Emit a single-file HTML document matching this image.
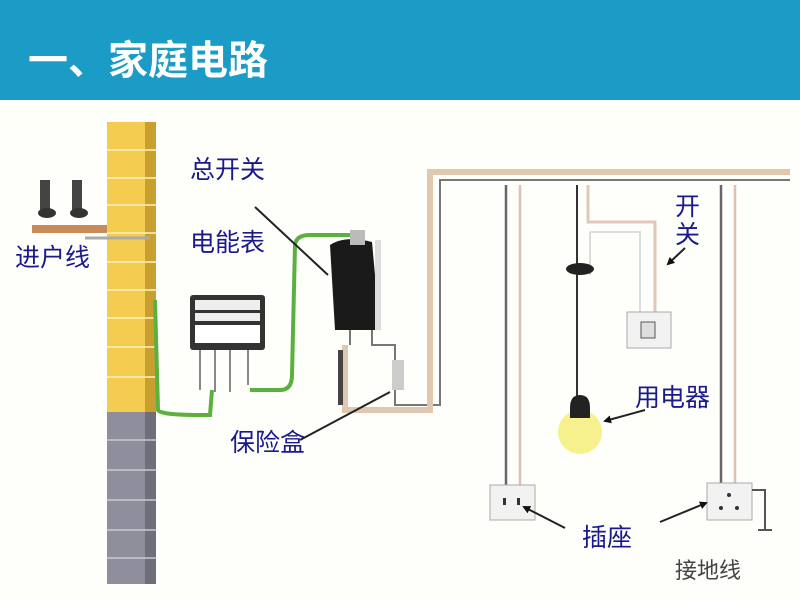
<!DOCTYPE html>
<html><head><meta charset="utf-8"><style>
body{margin:0;width:800px;height:600px;overflow:hidden;background:#fff;font-family:"Liberation Sans","Noto Sans CJK SC",sans-serif}
</style></head><body>
<svg width="800" height="600" xmlns="http://www.w3.org/2000/svg" font-family="Liberation Sans, Noto Sans CJK SC, sans-serif">
<defs><marker id="a" markerWidth="8" markerHeight="8" refX="6" refY="4" orient="auto" markerUnits="userSpaceOnUse"><path d="M0 0 L8 4 L0 8 Z" fill="#111"/></marker></defs>
<rect x="0" y="0" width="800" height="100" fill="#1b9cc6"/>
<text x="28" y="74" font-size="40" font-weight="bold" fill="#fff">一、家庭电路</text>
<rect x="0" y="100" width="800" height="500" fill="#fefefb"/>
<!-- wall -->
<rect x="107" y="122" width="42" height="290" fill="#f4cc50"/>
<rect x="145" y="122" width="11" height="290" fill="#c9a030"/>
<rect x="107" y="412" width="42" height="172" fill="#8e8e9c"/>
<rect x="145" y="412" width="11" height="172" fill="#6f6f7a"/>
<g stroke="#fff3c0" stroke-width="1.5">
<line x1="107" y1="150" x2="156" y2="150"/><line x1="107" y1="178" x2="156" y2="178"/><line x1="107" y1="205" x2="156" y2="205"/><line x1="107" y1="233" x2="156" y2="233"/><line x1="107" y1="262" x2="156" y2="262"/><line x1="107" y1="290" x2="156" y2="290"/><line x1="107" y1="318" x2="156" y2="318"/><line x1="107" y1="347" x2="156" y2="347"/><line x1="107" y1="377" x2="156" y2="377"/></g>
<g stroke="#c8c8d0" stroke-width="1.5">
<line x1="107" y1="440" x2="156" y2="440"/><line x1="107" y1="470" x2="156" y2="470"/><line x1="107" y1="500" x2="156" y2="500"/><line x1="107" y1="530" x2="156" y2="530"/><line x1="107" y1="558" x2="156" y2="558"/></g>
<!-- bracket and insulators -->
<rect x="32" y="225" width="75" height="8" fill="#c98a5a"/>
<rect x="40" y="180" width="10" height="35" fill="#444"/><ellipse cx="47" cy="213" rx="9" ry="5" fill="#333"/>
<rect x="72" y="180" width="10" height="35" fill="#444"/><ellipse cx="79" cy="213" rx="9" ry="5" fill="#333"/>
<line x1="85" y1="238" x2="150" y2="238" stroke="#aaa" stroke-width="3"/>
<!-- green wires -->
<path d="M155 300 L158 410 Q160 415 200 415 L210 415 L212 390" fill="none" stroke="#5cb040" stroke-width="4"/>
<path d="M250 390 L280 390 Q292 390 292 375 L295 245 Q296 235 310 235 L350 235" fill="none" stroke="#5cb040" stroke-width="4"/>
<!-- meter box -->
<rect x="190" y="295" width="75" height="55" fill="#333" rx="3"/>
<rect x="195" y="300" width="65" height="10" fill="#eee"/><rect x="195" y="313" width="65" height="8" fill="#eee"/><rect x="195" y="325" width="65" height="18" fill="#fff"/>
<g stroke="#888" stroke-width="2" fill="none"><path d="M200 350 V390"/><path d="M215 350 V392"/><path d="M230 350 V392"/><path d="M248 350 V385"/></g>
<!-- main switch -->
<path d="M330 245 Q345 235 372 242 L380 330 L335 330 Z" fill="#1a1a1a"/>
<rect x="350" y="230" width="15" height="15" fill="#bbb"/>
<rect x="375" y="240" width="6" height="90" fill="#ddd"/>
<path d="M350 330 V345 M372 330 V345 L395 345 V405 L440 405 L440 180 L790 180" fill="none" stroke="#777" stroke-width="2"/>
<path d="M345 345 V410 L430 410 L430 172 L790 172" fill="none" stroke="#e0c8b0" stroke-width="6"/>
<rect x="338" y="350" width="5" height="55" fill="#444"/>
<rect x="392" y="360" width="12" height="30" fill="#ccc"/>
<!-- verticals -->
<g fill="none" stroke-width="2.5">
<path d="M506 185 V490" stroke="#666"/><path d="M520 185 V490" stroke="#e0c0b0"/>
<path d="M721 185 V490" stroke="#666"/><path d="M735 185 V490" stroke="#e0c0b0"/>
<path d="M577 185 V400" stroke="#333" stroke-width="2"/>
<path d="M588 185 V222 L640 222 L655 222 V320" stroke="#e0c8b8" stroke-width="3"/>
<path d="M590 232 V275 M590 232 L640 232 V320" stroke="#ddd" stroke-width="2"/>
</g>
<ellipse cx="580" cy="269" rx="14" ry="6" fill="#222"/>
<circle cx="580" cy="432" r="22" fill="#f4ee70" opacity="0.8"/>
<path d="M570 408 Q570 395 580 395 Q590 395 590 408 L590 418 L570 418 Z" fill="#222"/>
<rect x="627" y="312" width="44" height="36" fill="#f2f2f2" stroke="#aaa"/>
<rect x="641" y="322" width="14" height="16" fill="#ddd" stroke="#555"/>
<rect x="490" y="485" width="45" height="35" fill="#f2f2f2" stroke="#aaa"/>
<rect x="503" y="498" width="3" height="7" fill="#333"/><rect x="517" y="498" width="3" height="7" fill="#333"/>
<rect x="707" y="483" width="45" height="37" fill="#f2f2f2" stroke="#aaa"/>
<circle cx="729" cy="495" r="2" fill="#333"/><circle cx="721" cy="508" r="2" fill="#333"/><circle cx="737" cy="508" r="2" fill="#333"/>
<path d="M752 490 H765 V530 M758 530 H772" stroke="#555" stroke-width="2" fill="none"/>
<!-- pointers -->
<g stroke="#222" stroke-width="2" fill="none">
<line x1="255" y1="207" x2="328" y2="275"/>
<line x1="300" y1="440" x2="390" y2="392"/>
<line x1="685" y1="248" x2="668" y2="264" marker-end="url(#a)"/>
<line x1="645" y1="410" x2="605" y2="421" marker-end="url(#a)"/>
<line x1="565" y1="528" x2="524" y2="507" marker-end="url(#a)"/>
<line x1="660" y1="522" x2="706" y2="503" marker-end="url(#a)"/>
</g>
<g fill="#1a1a8c" font-size="25">
<text x="15" y="266">进户线</text>
<text x="190" y="178">总开关</text>
<text x="190" y="251">电能表</text>
<text x="230" y="451">保险盒</text>
<text x="675" y="215">开</text><text x="675" y="243">关</text>
<text x="635" y="406">用电器</text>
<text x="582" y="546">插座</text>
</g>
<text x="675" y="578" font-size="22" fill="#444">接地线</text>
</svg>
</body></html>
